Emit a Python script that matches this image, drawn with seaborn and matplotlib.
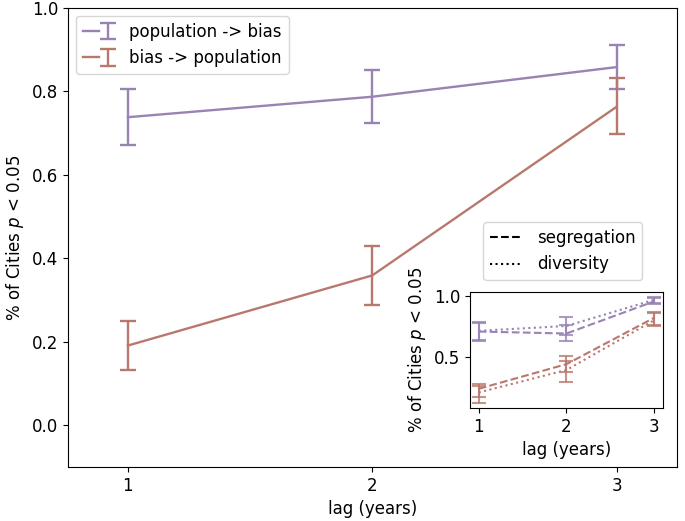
import numpy as np
import matplotlib
matplotlib.use("Agg")
import matplotlib.pyplot as plt
import seaborn as sns
import pandas as pd
from matplotlib.lines import Line2D
from matplotlib.legend_handler import HandlerTuple

# ---- data ----
lags = [1, 2, 3]
pop_bias = [0.738, 0.787, 0.858]
pop_bias_lo = [0.671, 0.723, 0.805]
pop_bias_hi = [0.806, 0.851, 0.912]
bias_pop = [0.191, 0.359, 0.763]
bias_pop_lo = [0.133, 0.288, 0.697]
bias_pop_hi = [0.250, 0.430, 0.831]

# inset: segregation (dashed) / diversity (dotted)
seg_pop_bias = [0.706, 0.690, 0.955]
seg_pop_bias_lo = [0.640, 0.625, 0.930]
seg_pop_bias_hi = [0.775, 0.760, 0.985]
div_pop_bias = [0.712, 0.752, 0.968]
div_pop_bias_lo = [0.625, 0.680, 0.945]
div_pop_bias_hi = [0.785, 0.828, 0.990]
seg_bias_pop = [0.235, 0.438, 0.820]
seg_bias_pop_lo = [0.170, 0.370, 0.760]
seg_bias_pop_hi = [0.271, 0.503, 0.870]
div_bias_pop = [0.205, 0.390, 0.800]
div_bias_pop_lo = [0.121, 0.291, 0.748]
div_bias_pop_hi = [0.260, 0.460, 0.860]

labels = ["population -> bias", "bias -> population"]
inset_labels = ["segregation", "diversity"]
ylabel = "% of Cities $p$ < 0.05"
xlabel = "lag (years)"

C_PUR = "#9883b3"
C_BRN = "#b9786d"

plt.rcParams["font.family"] = ["DejaVu Sans"]
plt.rcParams["font.size"] = 12

fig = plt.figure(figsize=(6.85, 5.21), dpi=100)
ax = fig.add_axes([0.099, 0.1036, 0.889, 0.8814])


def draw(axis, y, lo, hi, color, ls, lw, cap, ealpha=1.0):
    df = pd.DataFrame({"lag": lags, "v": y})
    sns.lineplot(data=df, x="lag", y="v", ax=axis, color=color, linestyle=ls,
                 linewidth=lw, legend=False)
    line = axis.get_lines()[-1]
    yerr = np.array([np.array(y) - np.array(lo), np.array(hi) - np.array(y)])
    err = axis.errorbar(lags, y, yerr=yerr, fmt="none", ecolor=color,
                        elinewidth=lw, capsize=cap, capthick=lw, alpha=ealpha)
    return (line, err)


h1 = draw(ax, pop_bias, pop_bias_lo, pop_bias_hi, C_PUR, "-", 1.7, 6)
h2 = draw(ax, bias_pop, bias_pop_lo, bias_pop_hi, C_BRN, "-", 1.7, 6)

ax.set_xlim(0.754, 3.246)
ax.set_ylim(-0.1, 1.0)
ax.set_xticks([1, 2, 3])
ax.set_yticks([0.0, 0.2, 0.4, 0.6, 0.8, 1.0])
ax.set_xlabel(xlabel)
ax.set_ylabel(ylabel)

ax.legend([h1, h2], labels, loc="upper left",
          handler_map={tuple: HandlerTuple(ndivide=None, pad=0)},
          fontsize=12, handlelength=2.0)

# inset
axi = fig.add_axes([0.686, 0.217, 0.282, 0.223])
draw(axi, seg_pop_bias, seg_pop_bias_lo, seg_pop_bias_hi, C_PUR, "--", 1.5, 5, ealpha=0.8)
draw(axi, div_pop_bias, div_pop_bias_lo, div_pop_bias_hi, C_PUR, ":", 1.5, 5, ealpha=0.8)
draw(axi, seg_bias_pop, seg_bias_pop_lo, seg_bias_pop_hi, C_BRN, "--", 1.5, 5, ealpha=0.8)
draw(axi, div_bias_pop, div_bias_pop_lo, div_bias_pop_hi, C_BRN, ":", 1.5, 5, ealpha=0.8)
axi.set_xticks([1, 2, 3])
axi.set_yticks([0.5, 1.0])
axi.set_xlabel(xlabel)
axi.set_ylabel(ylabel)

lh = [Line2D([], [], color="black", ls="--", lw=1.5),
      Line2D([], [], color="black", ls=":", lw=1.5)]
axi.legend(lh, inset_labels, loc="lower center", bbox_to_anchor=(0.48, 1.10),
           borderaxespad=0, fontsize=12, handlelength=2.0)

fig.savefig("out.png", dpi=100)
